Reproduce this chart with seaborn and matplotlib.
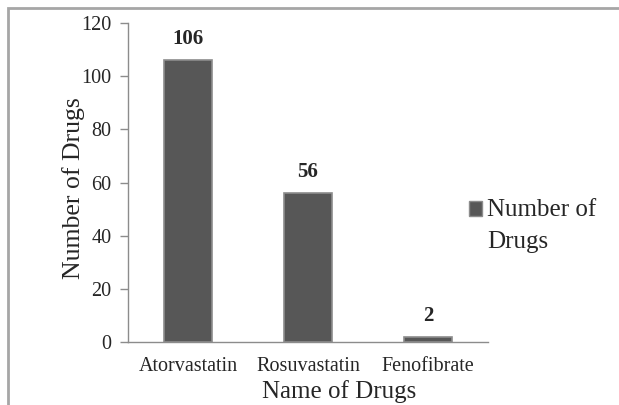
import matplotlib
matplotlib.use("Agg")
import matplotlib.pyplot as plt
import seaborn as sns
import pandas as pd
from matplotlib.patches import Rectangle
from matplotlib.legend_handler import HandlerPatch

drugs = ["Atorvastatin", "Rosuvastatin", "Fenofibrate"]
counts = [106, 56, 2]
series_name = "Number of\nDrugs"
y_ticks = [0, 20, 40, 60, 80, 100, 120]

sns.set_style("white")
plt.rcParams["font.family"] = ["Liberation Serif", "DejaVu Serif"]

df = pd.DataFrame({"drug": drugs, "count": counts, "series": series_name})

fig = plt.figure(figsize=(6.19, 4.05), dpi=100)
ax = fig.add_axes([128 / 619, 63 / 405, 360 / 619, 319 / 405])

sns.barplot(data=df, x="drug", y="count", hue="series", ax=ax,
            width=0.4, palette=["#575757"], edgecolor="#8c8c8c",
            linewidth=1.2, legend=False)

for c in ax.containers:
    ax.bar_label(c, labels=[str(v) for v in counts], padding=8,
                 fontsize=15, fontweight="bold")

ax.set_ylim(0, 120)
ax.set_xlim(-0.5, len(drugs) - 0.5)
ax.set_yticks(y_ticks)
ax.set_yticklabels([str(t) for t in y_ticks], fontsize=14.5)
ax.set_xticks(range(len(drugs)))
ax.set_xticklabels(drugs, fontsize=14.5)
ax.set_xticks([i - 0.5 for i in range(len(drugs) + 1)], minor=True)
ax.tick_params(axis="x", which="major", length=0, pad=11)
ax.tick_params(axis="x", which="minor", length=6, color="#8c8c8c", width=1)
ax.tick_params(axis="y", length=6, color="#8c8c8c", width=1, pad=6, left=True)

for side in ["top", "right"]:
    ax.spines[side].set_visible(False)
for side in ["left", "bottom"]:
    ax.spines[side].set_color("#8c8c8c")
    ax.spines[side].set_linewidth(1)

ax.set_xlabel("Name of Drugs", fontsize=18, va="baseline")
ax.set_ylabel("Number of Drugs", fontsize=18.5, va="center")
ax.xaxis.set_label_coords((339 - 128) / 360, -(398 - 342) / 319)
ax.yaxis.set_label_coords(-(128 - 74) / 360, (342 - 188) / 319)


def square_on_first_line(legend, orig_handle, xdescent, ydescent, width, height, fontsize):
    # keep the key square level with the first line of the two-line label
    return Rectangle((-xdescent, -ydescent + 12), width, height)


handle = Rectangle((0, 0), 1, 1, facecolor="#575757", edgecolor="#8c8c8c", linewidth=1)
leg = fig.legend([handle], [series_name], loc="upper left",
                 bbox_to_anchor=(456 / 619, 1 - 186 / 405), frameon=False,
                 fontsize=18, handlelength=0.55, handleheight=0.55,
                 handletextpad=0.2, borderpad=0, labelspacing=0,
                 handler_map={Rectangle: HandlerPatch(patch_func=square_on_first_line)})
for t in leg.get_texts():
    t.set_linespacing(1.6)

# outer frame line on the left and top edges
fig.add_artist(Rectangle((8 / 619, -0.1), 1.2, 1 - 8 / 405 + 0.1,
                         transform=fig.transFigure, fill=False,
                         edgecolor="#a6a6a6", linewidth=2))

fig.savefig("out.png", dpi=100)
